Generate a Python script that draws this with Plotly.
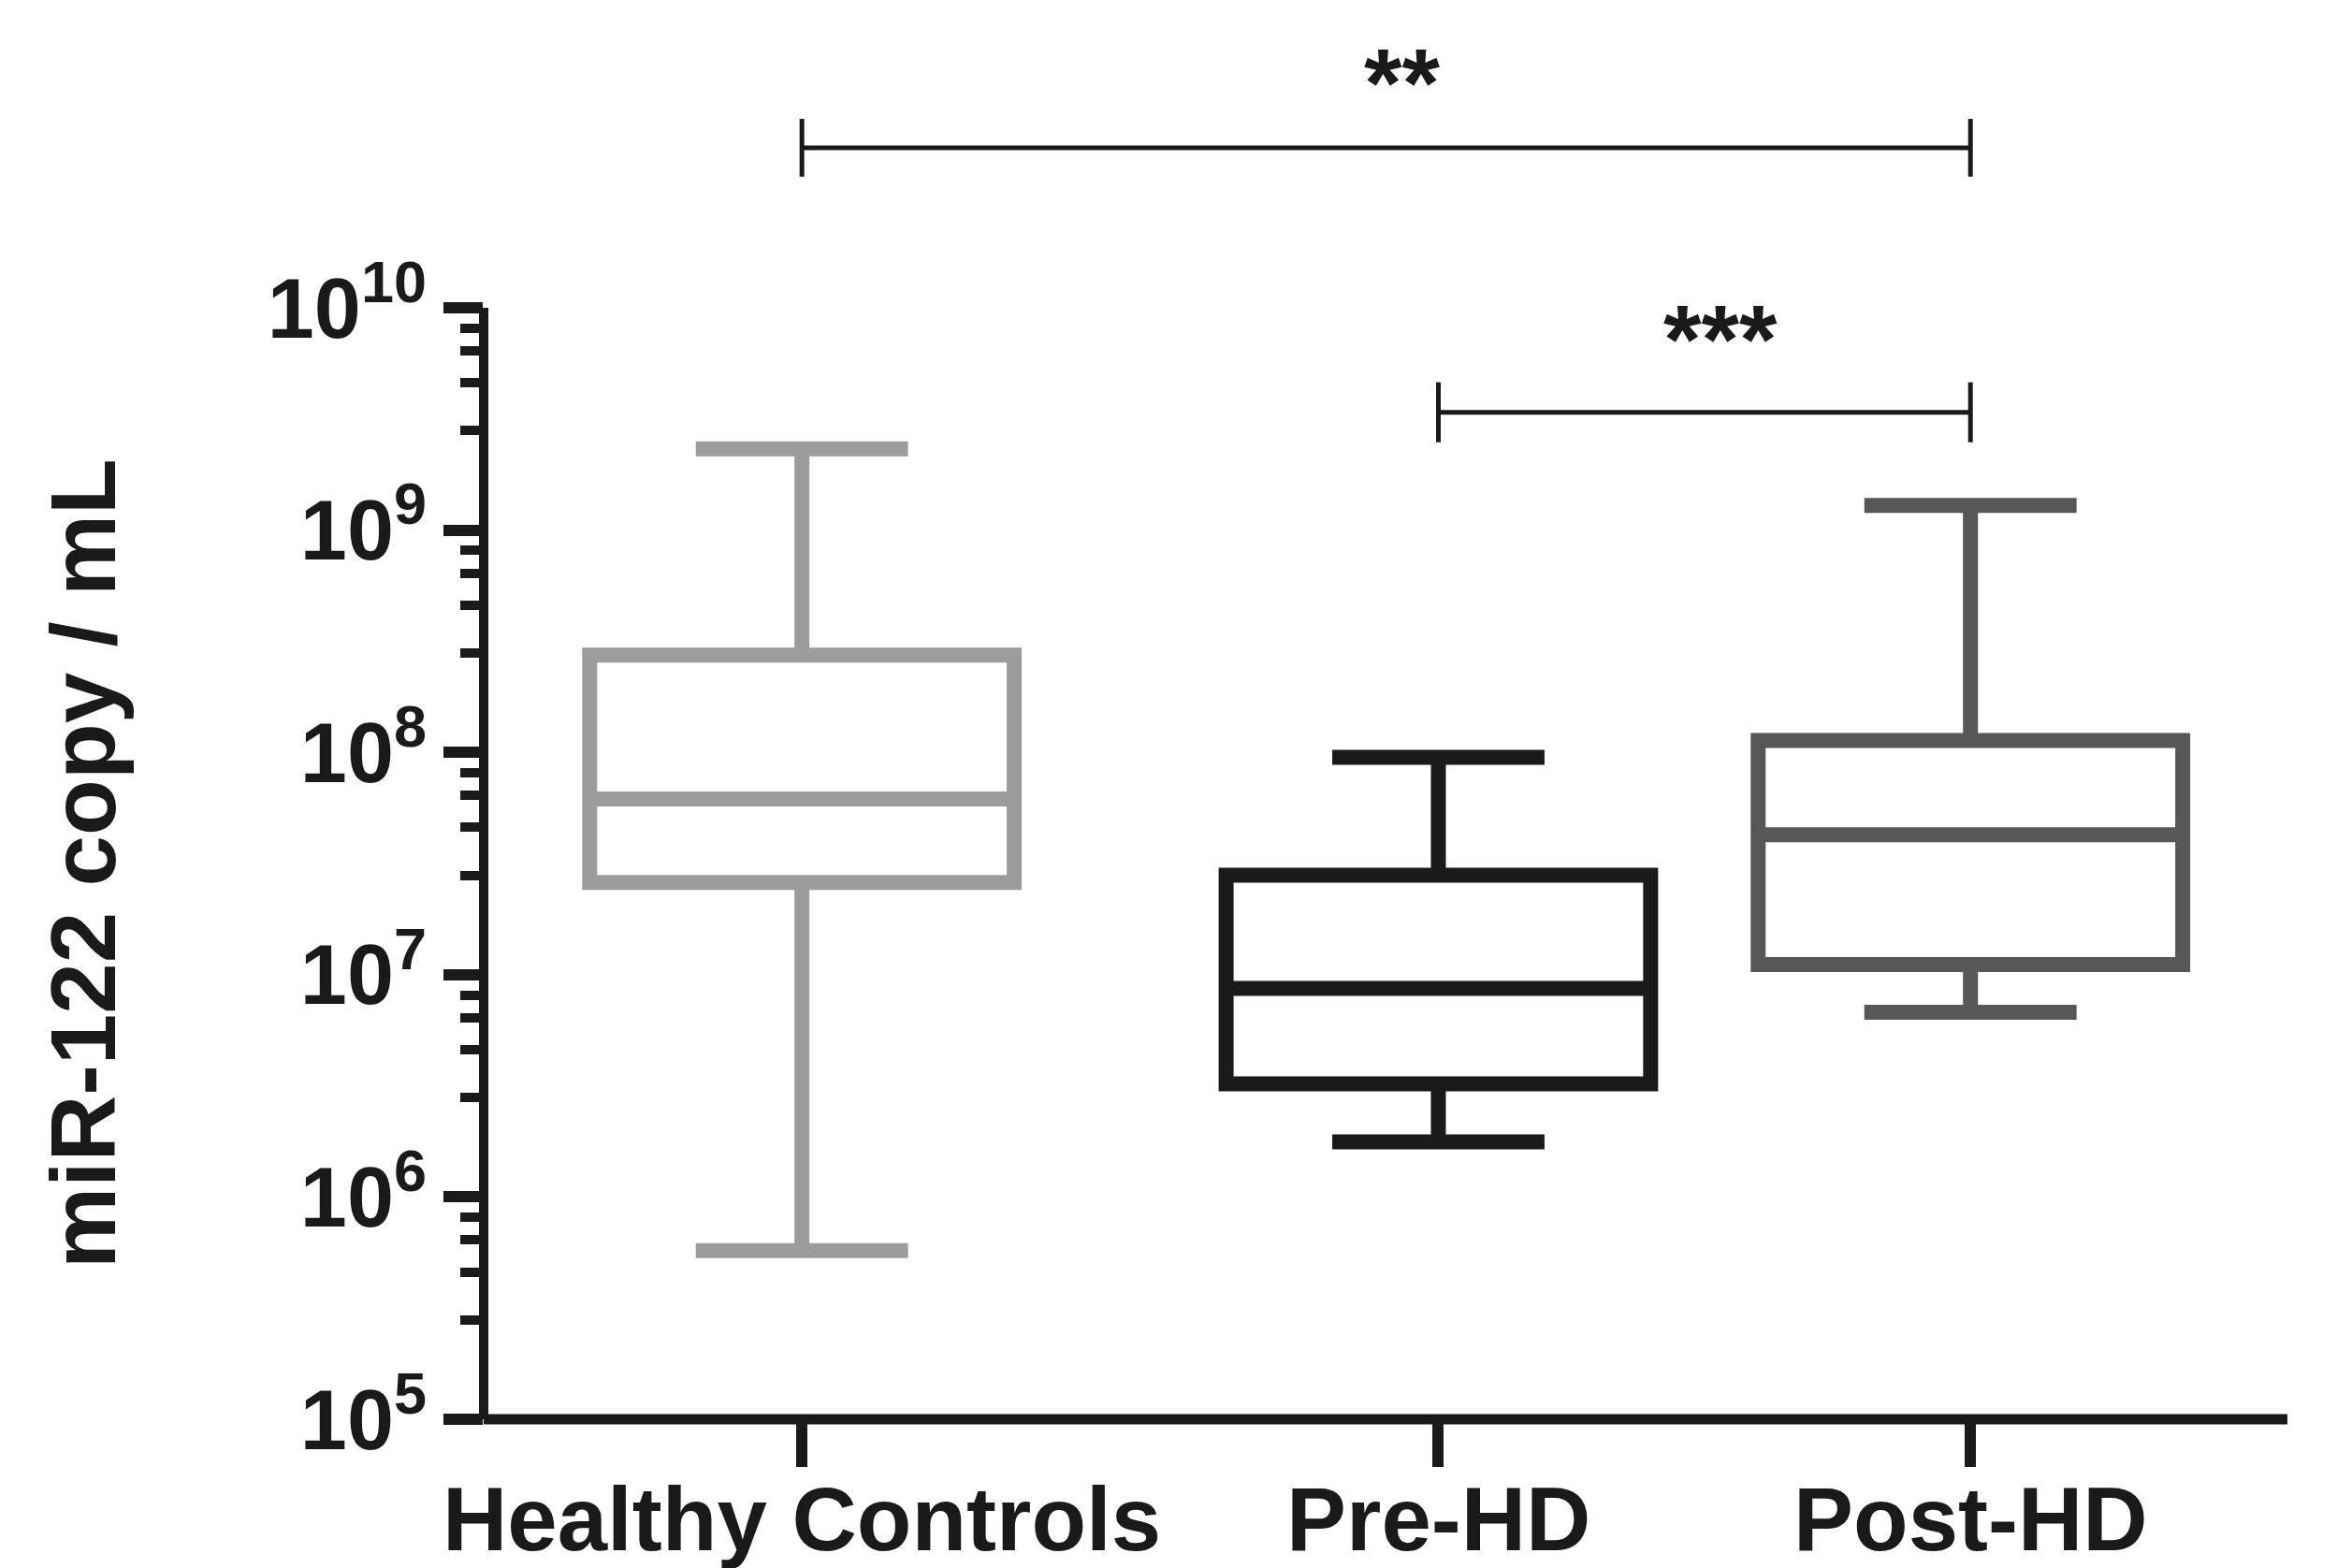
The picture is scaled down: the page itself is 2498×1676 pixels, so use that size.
import plotly.graph_objects as go

# ---- data ----
groups = ["Healthy Controls", "Pre-HD", "Post-HD"]
group_pos = [1.0, 2.0, 2.836]          # uneven spacing, as in the figure
upper_whisker = [2.32e9, 9.5e7, 1.29e9]
q3 = [2.74e8, 2.8e7, 1.13e8]
median = [6.17e7, 8.67e6, 4.26e7]
q1 = [2.60e7, 3.23e6, 1.11e7]
lower_whisker = [5.73e5, 1.77e6, 6.78e6]
colors = ["#9b9c9b", "#1a1a1a", "#575757"]

major_ticks = [1e5, 1e6, 1e7, 1e8, 1e9, 1e10]
major_text = ["10<sup>5</sup>", "10<sup>6</sup>", "10<sup>7</sup>",
              "10<sup>8</sup>", "10<sup>9</sup>", "10<sup>10</sup>"]
minor_mult = [2.8, 4.6, 6.4, 8.1]
minor_ticks = [m * d for d in major_ticks[:-1] for m in minor_mult]

# significance brackets: (from group index, to group index, label)
brackets = [(0, 2, "**"), (1, 2, "***")]

INK = "#1a1a1a"
FONT = "Liberation Sans"

fig = go.Figure()
for i, g in enumerate(groups):
    fig.add_trace(go.Box(
        x=[group_pos[i]], q1=[q1[i]], median=[median[i]], q3=[q3[i]],
        lowerfence=[lower_whisker[i]], upperfence=[upper_whisker[i]],
        name=g, width=0.667, whiskerwidth=0.5,
        line=dict(color=colors[i], width=16), fillcolor="white",
        boxpoints=False, showlegend=False, hoverinfo="skip",
    ))

# axis lines drawn centred on the plot edges
shapes = [
    dict(type="line", xref="paper", yref="paper", x0=0, x1=0, y0=0, y1=1,
         line=dict(color=INK, width=10), layer="above"),
    dict(type="line", xref="paper", yref="paper", x0=0, x1=1, y0=0, y1=0,
         line=dict(color=INK, width=11), layer="above"),
]
annotations = []

# bracket geometry in paper coordinates
br_y = [1.144, 0.906]
br_tick = [0.026, 0.027]
txt_y = [1.202, 0.971]
for (a, b, lab), yb, dt, ty in zip(brackets, br_y, br_tick, txt_y):
    xa, xb = group_pos[a], group_pos[b]
    shapes.append(dict(type="line", xref="x", yref="paper", x0=xa, x1=xb, y0=yb, y1=yb,
                       line=dict(color=INK, width=5)))
    for xx in (xa, xb):
        shapes.append(dict(type="line", xref="x", yref="paper", x0=xx, x1=xx,
                           y0=yb - dt, y1=yb + dt, line=dict(color=INK, width=5)))
    annotations.append(dict(text=lab, xref="x", yref="paper", x=(xa + xb) / 2 + 0.025, y=ty,
                            showarrow=False, xanchor="center", yanchor="middle",
                            font=dict(family=FONT, size=104, color=INK, weight="bold")))

# category labels under the x axis
for xx, g in zip(group_pos, groups):
    annotations.append(dict(text=g, xref="x", yref="paper", x=xx, y=-0.09,
                            showarrow=False, xanchor="center", yanchor="middle",
                            font=dict(family=FONT, size=96, color=INK, weight="bold")))

annotations.append(dict(text="miR-122 copy / mL", xref="paper", yref="paper",
                        x=-0.222, y=0.5, textangle=-90, showarrow=False,
                        xanchor="center", yanchor="middle",
                        font=dict(family=FONT, size=98, color=INK, weight="bold")))

fig.update_layout(
    width=2490, height=1668,
    margin=dict(l=509, r=53, t=321, b=159),
    paper_bgcolor="white", plot_bgcolor="white",
    shapes=shapes, annotations=annotations,
    xaxis=dict(range=[0.500, 3.334], showgrid=False, zeroline=False, automargin=False,
               showline=False,
               tickmode="array", tickvals=group_pos, showticklabels=False,
               ticks="outside", ticklen=50, tickwidth=12, tickcolor=INK),
    yaxis=dict(type="log", range=[5, 10], showgrid=False, zeroline=False, automargin=False,
               showline=False,
               tickmode="array", tickvals=major_ticks, ticktext=major_text,
               ticks="outside", ticklen=42, tickwidth=12, tickcolor=INK,
               ticklabelstandoff=0,
               tickfont=dict(family=FONT, size=90, color=INK, weight="bold"),
               minor=dict(tickmode="array", tickvals=minor_ticks, ticks="outside",
                          ticklen=24, tickwidth=10, tickcolor=INK, showgrid=False)),
)

fig.write_html("out.html")
